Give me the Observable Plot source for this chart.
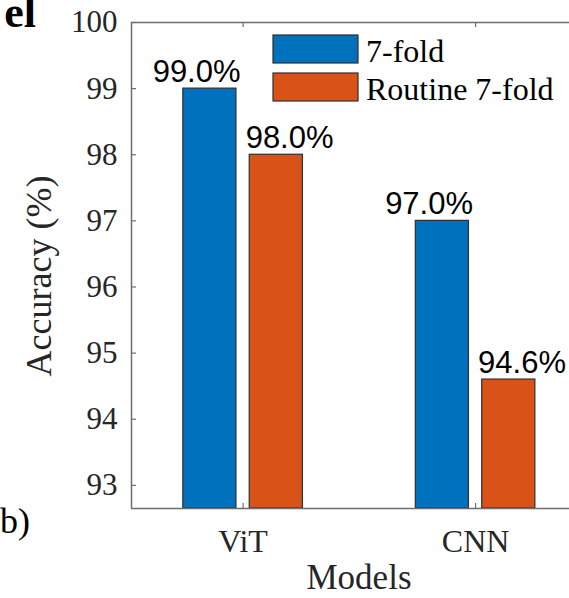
<!DOCTYPE html>
<html>
<head>
<meta charset="utf-8">
<script src="https://cdn.jsdelivr.net/npm/d3@7"></script>
<script src="https://cdn.jsdelivr.net/npm/@observablehq/plot@0.6"></script>
<style>
  html, body { margin: 0; padding: 0; background: #fff; overflow: hidden; }
</style>
</head>
<body>
<div id="chart"></div>
<script>
// ---- data ----
const models = ["ViT", "CNN"];
const series = ["7-fold", "Routine 7-fold"];
const accuracy7Fold = [99.0, 97.0];
const accuracyRoutine = [98.0, 94.6];
const yTicks = [93, 94, 95, 96, 97, 98, 99, 100];
const seriesColors = ["#0072BD", "#D95319"];

// ---- layout ----
const W = 569, H = 598;
const margin = { left: 131, right: 0, top: 22, bottom: 90 };
const xDomain = [0.52, 2.404];
const yDomain = [92.65, 100];
const tickLen = 5; // px, drawn inward
const xUnitPx = (W - margin.left - margin.right) / (xDomain[1] - xDomain[0]);
const yUnitPx = (H - margin.top - margin.bottom) / (yDomain[1] - yDomain[0]);

// grouped-bar geometry: groups sit at slots 1..n
const groupWidth = Math.min(0.8, series.length / (series.length + 1.5));
const barWidth = 0.8 * groupWidth / series.length;
const labelShift = 0.2;
const slots = models.map((_, i) => i + 1);

const rows = [];
[accuracy7Fold, accuracyRoutine].forEach((values, s) => {
  values.forEach((v, i) => {
    const slot = slots[i];
    const center = slot - groupWidth / 2 + (s + 0.5) * groupWidth / series.length;
    rows.push({
      model: models[i],
      series: series[s],
      value: v,
      base: yDomain[0],
      x1: center - barWidth / 2,
      x2: center + barWidth / 2,
      lx: slot + (s === 0 ? -labelShift : labelShift)
    });
  });
});

const serif = "'Liberation Serif', 'Times New Roman', Times, serif";
const sans = "'Liberation Sans', Arial, Helvetica, sans-serif";
const axisColor = "#6e6e6e";
const textColor = "#262626";

const chart = Plot.plot({
  width: W,
  height: H,
  marginLeft: margin.left,
  marginRight: margin.right,
  marginTop: margin.top,
  marginBottom: margin.bottom,
  style: { background: "#fff", fontFamily: serif, overflow: "visible" },
  x: { domain: xDomain },
  y: { domain: yDomain },
  color: { domain: series, range: seriesColors },
  marks: [
    Plot.rect(rows, {
      x1: "x1", x2: "x2", y1: "base", y2: "value",
      fill: "series", stroke: "#2e2e2e", strokeWidth: 1.2
    }),
    // box lines
    Plot.ruleX([xDomain[0]], { stroke: axisColor, strokeWidth: 1.5 }),
    Plot.ruleY(yDomain, { stroke: axisColor, strokeWidth: 1.5 }),
    // inward tick marks
    Plot.ruleY(yTicks, { y: d => d, x1: xDomain[0], x2: xDomain[0] + tickLen / xUnitPx, stroke: axisColor, strokeWidth: 1.2 }),
    Plot.ruleX(slots, { x: d => d, y1: yDomain[0], y2: yDomain[0] + tickLen / yUnitPx, stroke: axisColor, strokeWidth: 1.2 }),
    Plot.ruleX(slots, { x: d => d, y1: yDomain[1], y2: yDomain[1] - tickLen / yUnitPx, stroke: axisColor, strokeWidth: 1.2 }),
    // tick labels
    Plot.axisY({ ticks: yTicks, tickSize: 0, tickPadding: 14, tickFormat: d => String(d), fontSize: 31, color: textColor, label: null }),
    Plot.axisX({ anchor: "bottom", ticks: slots, tickSize: 0, tickPadding: 21, tickFormat: d => models[d - 1], fontSize: 32, color: textColor, label: null }),
    // value labels
    Plot.text(rows, {
      x: "lx", y: "value",
      text: d => d.value.toFixed(1) + "%",
      lineAnchor: "bottom", dy: -7,
      fontSize: 31, fontFamily: sans, fill: "#000"
    })
  ]
});

const svg = d3.select(chart);

// axis titles
svg.append("text")
  .attr("transform", "translate(51,276) rotate(-90)")
  .attr("text-anchor", "middle")
  .attr("font-family", serif).attr("font-size", 36).attr("fill", textColor)
  .text("Accuracy (%)");
svg.append("text")
  .attr("x", 359).attr("y", 589)
  .attr("text-anchor", "middle")
  .attr("font-family", serif).attr("font-size", 35).attr("fill", textColor)
  .text("Models");

// legend
const legend = svg.append("g").attr("text-anchor", "start");
series.forEach((name, i) => {
  legend.append("rect")
    .attr("x", 273).attr("y", 35 + i * 38)
    .attr("width", 85).attr("height", 28)
    .attr("fill", seriesColors[i]).attr("stroke", "#2e2e2e").attr("stroke-width", 1.2);
  legend.append("text")
    .attr("x", 366).attr("y", 62 + i * 38)
    .attr("text-anchor", "start")
    .attr("font-family", serif).attr("font-size", 32).attr("fill", "#000")
    .text(name);
});

// neighbouring panel text
svg.append("text")
  .attr("x", 36).attr("y", 27).attr("text-anchor", "end")
  .attr("font-family", serif).attr("font-weight", "bold").attr("font-size", 44).attr("fill", "#000")
  .text("el");
svg.append("text")
  .attr("x", 0).attr("y", 533)
  .attr("text-anchor", "start")
  .attr("font-family", serif).attr("font-size", 36).attr("fill", "#000")
  .text("b)");

document.getElementById("chart").appendChild(chart);
</script>
</body>
</html>
